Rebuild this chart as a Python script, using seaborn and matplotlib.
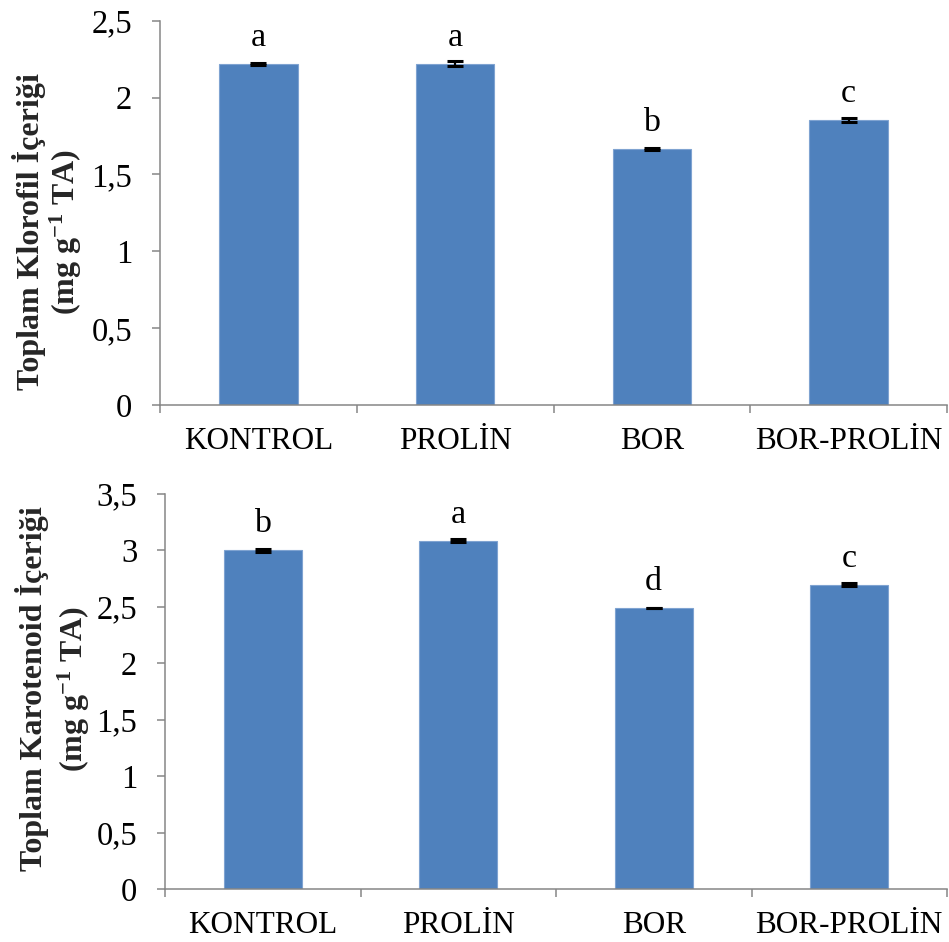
import numpy as np
import pandas as pd
import matplotlib
matplotlib.use("Agg")
import matplotlib.pyplot as plt
from matplotlib.ticker import FixedLocator, FuncFormatter
import seaborn as sns

# Treatment groups
categories = ["KONTROL", "PROLİN", "BOR", "BOR-PROLİN"]

# Total chlorophyll (mg g-1 FW): means, standard errors, significance letters
chl_mean = [2.22, 2.22, 1.665, 1.855]
chl_err = [0.006, 0.016, 0.007, 0.013]
chl_letters = ["a", "a", "b", "c"]

# Total carotenoid (mg g-1 FW): means, standard errors, significance letters
car_mean = [3.0, 3.085, 2.49, 2.695]
car_err = [0.016, 0.013, 0.004, 0.013]
car_letters = ["b", "a", "d", "c"]

chl_ticks = [0, 0.5, 1, 1.5, 2, 2.5]
car_ticks = [0, 0.5, 1, 1.5, 2, 2.5, 3, 3.5]

sns.set_theme(style="white")
plt.rcParams["font.family"] = ["Liberation Serif", "DejaVu Serif"]
plt.rcParams["mathtext.fontset"] = "custom"
plt.rcParams["mathtext.rm"] = "Liberation Serif:bold"
plt.rcParams["mathtext.bf"] = "Liberation Serif:bold"
plt.rcParams["mathtext.it"] = "Liberation Serif:bold"

BAR = "#4F81BD"
AXIS = "#868686"
W, H = 949, 942

fig = plt.figure(figsize=(W / 100, H / 100), dpi=100)
ax1 = fig.add_axes([160 / W, 1 - 405 / H, (947 - 160) / W, (405 - 20.7) / H])
ax2 = fig.add_axes([165 / W, 1 - 889 / H, (947 - 165) / W, (889 - 494) / H])


def comma(v, _pos):
    s = f"{v:g}"
    return s.replace(".", ",")


def draw(ax, means, errs, letters, ticks):
    df = pd.DataFrame({"grup": categories, "deger": means})
    sns.barplot(data=df, x="grup", y="deger", order=categories, color=BAR,
                saturation=1, width=0.4, ax=ax, errorbar=None,
                edgecolor="#7FA3D1", linewidth=0.8)
    xs = np.arange(len(categories))
    ax.errorbar(xs, means, yerr=errs, fmt="none", ecolor="black",
                elinewidth=1.6, capsize=5.5, capthick=2.2, zorder=5)
    for x, m, lab in zip(xs, means, letters):
        ax.annotate(lab, (x, m), xytext=(0, 13), textcoords="offset points",
                    ha="center", va="baseline", fontsize=24.5, color="black")

    ax.set_xlim(-0.5, len(categories) - 0.5)
    ax.set_ylim(ticks[0], ticks[-1])
    ax.set_xlabel("")
    ax.set_ylabel("")

    # category boundaries carry the tick marks, labels sit between them
    ax.xaxis.set_major_locator(FixedLocator(np.arange(-0.5, len(categories), 1.0)))
    ax.xaxis.set_minor_locator(FixedLocator(xs))
    ax.set_xticklabels([])
    ax.set_xticklabels(categories, minor=True)
    ax.tick_params(axis="x", which="major", length=6, width=1.1, color=AXIS,
                   direction="out", bottom=True)
    ax.tick_params(axis="x", which="minor", length=0, pad=16, labelsize=22.5,
                   labelcolor="black", bottom=True)

    ax.yaxis.set_major_locator(FixedLocator(ticks))
    ax.yaxis.set_major_formatter(FuncFormatter(comma))
    ax.tick_params(axis="y", which="major", length=6, width=1.1, color=AXIS,
                   direction="out", left=True, pad=14, labelsize=23.5,
                   labelcolor="black")

    for side in ("top", "right"):
        ax.spines[side].set_visible(False)
    for side in ("left", "bottom"):
        ax.spines[side].set_color(AXIS)
        ax.spines[side].set_linewidth(1.1)
    ax.grid(False)


draw(ax1, chl_mean, chl_err, chl_letters, chl_ticks)
draw(ax2, car_mean, car_err, car_letters, car_ticks)

unit = r"(mg g$^{-1}$ TA)"
fig.text(48 / W, 1 - 232 / H, "Toplam Klorofil İçeriği\n" + unit,
         rotation=90, ha="center", va="center", multialignment="center",
         fontsize=23, fontweight="bold", linespacing=1.1)
fig.text(54 / W, 1 - 689 / H, "Toplam Karotenoid İçeriği\n" + unit,
         rotation=90, ha="center", va="center", multialignment="center",
         fontsize=23, fontweight="bold", linespacing=1.25)

fig.savefig("out.png", dpi=100, facecolor="white")
